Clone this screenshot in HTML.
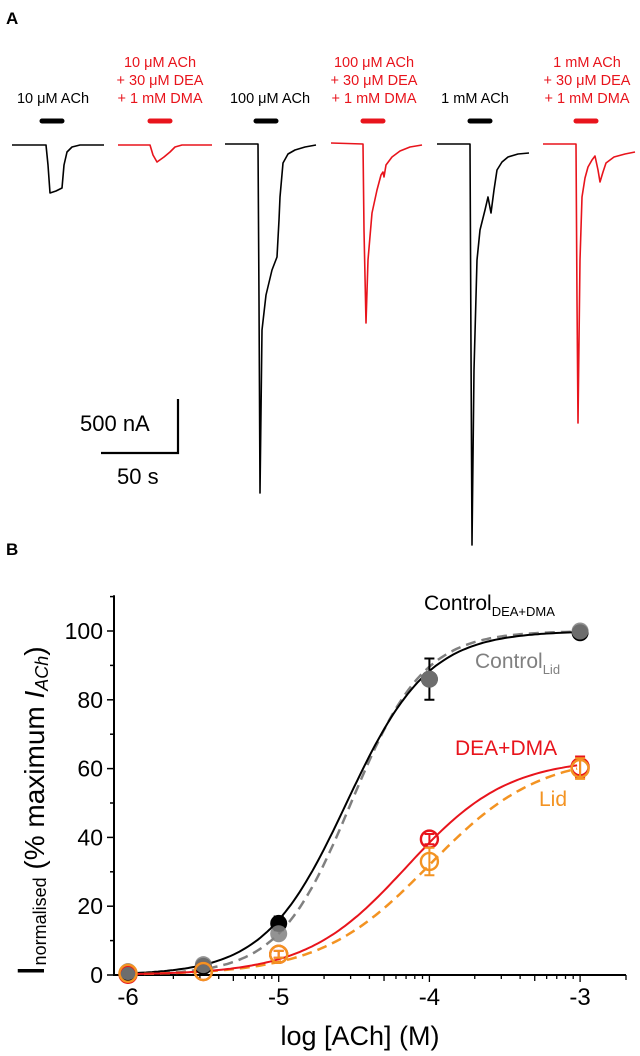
<!DOCTYPE html>
<html><head><meta charset="utf-8"><style>
body{margin:0;background:#fff}
svg{display:block;font-family:"Liberation Sans",Arial,sans-serif}
</style></head><body>
<svg id="fig" width="640" height="1056" viewBox="0 0 640 1056">
<text x="6" y="24" font-size="17" font-weight="bold">A</text>
<text x="6" y="555" font-size="17" font-weight="bold">B</text>

<g font-size="14.5" text-anchor="middle">
<text x="53" y="103" fill="#000">10 μM ACh</text>
<text x="160" y="67" fill="#e8141c"><tspan x="160">10 μM ACh</tspan><tspan x="160" dy="18">+ 30 μM DEA</tspan><tspan x="160" dy="18">+ 1 mM DMA</tspan></text>
<text x="270" y="103" fill="#000">100 μM ACh</text>
<text x="374" y="67" fill="#e8141c"><tspan x="374">100 μM ACh</tspan><tspan x="374" dy="18">+ 30 μM DEA</tspan><tspan x="374" dy="18">+ 1 mM DMA</tspan></text>
<text x="475" y="103" fill="#000">1 mM ACh</text>
<text x="587" y="67" fill="#e8141c"><tspan x="587">1 mM ACh</tspan><tspan x="587" dy="18">+ 30 μM DEA</tspan><tspan x="587" dy="18">+ 1 mM DMA</tspan></text>
</g>
<g stroke-linecap="round" stroke-width="5">
<line x1="42" y1="121" x2="62" y2="121" stroke="#000"/>
<line x1="150" y1="121" x2="170" y2="121" stroke="#e8141c"/>
<line x1="256" y1="121" x2="276" y2="121" stroke="#000"/>
<line x1="363" y1="121" x2="383" y2="121" stroke="#e8141c"/>
<line x1="470" y1="121" x2="490" y2="121" stroke="#000"/>
<line x1="576" y1="121" x2="596" y2="121" stroke="#e8141c"/>
</g>
<g fill="none" stroke-width="1.6" stroke-linejoin="round">
<path stroke="#000" d="M12,145 L46,145 L48,165 L50,193 L56,191 L62,188 L64,165 L67,152 L72,147 L80,145 L104,145"/>
<path stroke="#e8141c" d="M118,145 L150,145 L153,155 L157,162 L164,157 L170,152 L175,147 L182,145 L212,145"/>
<path stroke="#000" d="M225,144 L258,144 L259,300 L260,493 L262,330 L266,295 L272,270 L277,257 L279,220 L280,197 L283,163 L288,154 L295,150 L305,147 L316,145"/>
<path stroke="#e8141c" d="M331,143 L363,144 L364,230 L366,323 L368,260 L372,213 L377,190 L381,175 L383,172 L384,177 L386,165 L392,157 L400,151 L410,147 L422,145"/>
<path stroke="#000" d="M437,144 L470,144 L471,350 L472,545 L474,370 L477,260 L480,230 L485,210 L488,197 L491,213 L494,190 L497,170 L502,162 L508,157 L518,154 L529,153"/>
<path stroke="#e8141c" d="M543,144 L576,144 L577,300 L578,423 L580,260 L582,197 L585,178 L588,167 L592,160 L595,156 L598,170 L600,182 L603,172 L606,163 L614,157 L625,154 L635,152"/>
</g>
<g>
<path d="M178,399 L178,453 L101,453" fill="none" stroke="#000" stroke-width="2.2"/>
<text x="80" y="431" font-size="22">500 nA</text>
<text x="117" y="484" font-size="22">50 s</text>
</g>

<g id="chart"></g>
</svg>
<script>
// ---- data ----
const logConc = [-6, -5.5, -5, -4, -3];
const controlDeaDma = [0.5, 2.5, 15, 86, 99.5];
const controlDeaDmaErr = [0.5, 0.5, 2, 6, 1];
const controlLid = [1, 3, 12, 86, 100];
const deaDma = [0.2, 1, 6, 39.5, 60.5];
const deaDmaErr = [0.3, 0.5, 1, 1.5, 3];
const lid = [0.5, 1, 6, 33, 60];
const lidErr = [0.5, 0.5, 1, 4, 3];
// Hill fit params: [max, logEC50, n]
const fitControlDeaDma = [100, -4.55, 1.6];
const fitControlLid = [100, -4.52, 1.8];
const fitDeaDma = [63, -4.15, 1.3];
const fitLid = [64, -4.0, 1.2];
const xTicks = [-6, -5, -4, -3];
const yTicks = [0, 20, 40, 60, 80, 100];

const NS = 'http://www.w3.org/2000/svg';
const g = document.getElementById('chart');
const X0 = 128, XPD = 150.7, Y0 = 975, YPU = 3.44;
const sx = v => X0 + (v + 6) * XPD;
const sy = v => Y0 - v * YPU;
function mk(tag, attrs, parent) { const e = document.createElementNS(NS, tag); for (const k in attrs) e.setAttribute(k, attrs[k]); (parent || g).appendChild(e); return e; }

// axes
let e = mk('path', {d: `M114,${sy(110.4)} L114,${Y0} L626,${Y0}`, fill: 'none', stroke: '#000', 'stroke-width': 2});


for (let v = 0; v <= 110; v += 10) {
  const t = mk('line', {x1: v % 20 === 0 ? 107 : 110, x2: 114, y1: sy(v), y2: sy(v), stroke: '#000', 'stroke-width': 1.5});
  
  
}
yTicks.forEach(v => {
  const t = mk('text', {x: 103, y: sy(v) + 8, 'font-size': 23, 'text-anchor': 'end'});
  t.textContent = v;
  
  
});
for (let d = -6; d < -2; d++) {
  for (let m = 1; m <= 9; m++) {
    const lv = d + Math.log10(m);
    if (lv > -3) break;
    const t = mk('line', {x1: sx(lv), x2: sx(lv), y1: Y0, y2: Y0 + (m === 1 ? 7 : (m === 5 ? 6 : 4)), stroke: '#000', 'stroke-width': 1.3});
    
    
  }
}
const endTick = mk('line', {x1: 626, x2: 626, y1: Y0, y2: Y0 + 5, stroke: '#000', 'stroke-width': 1.3});


xTicks.forEach(v => {
  const t = mk('text', {x: sx(v), y: Y0 + 30, 'font-size': 24, 'text-anchor': 'middle'});
  t.textContent = v;
  
  
});
const xt = mk('text', {x: 360, y: 1045, 'font-size': 27, 'text-anchor': 'middle'});
xt.textContent = 'log [ACh] (M)';


const yt = mk('text', {transform: 'translate(44,976) rotate(-90)', 'font-size': 28});
yt.innerHTML = '<tspan font-size="38">I</tspan><tspan font-size="18" dy="2">normalised</tspan><tspan dy="-2"> (% maximum </tspan><tspan font-style="italic">I</tspan><tspan font-size="18" dy="4" font-style="italic">ACh</tspan><tspan dy="-4">)</tspan>';



// fits
function fitPath(p) {
  let d = '';
  for (let lv = -6; lv <= -3.0001; lv += 0.02) {
    const r = Math.pow(10, (lv - p[1]) * p[2]);
    const v = p[0] * r / (1 + r);
    d += (d ? 'L' : 'M') + sx(lv).toFixed(1) + ',' + sy(v).toFixed(1);
  }
  return d;
}
e = mk('path', {d: fitPath(fitControlLid), fill: 'none', stroke: '#808080', 'stroke-width': 2.5, 'stroke-dasharray': '10,6'});


e = mk('path', {d: fitPath(fitControlDeaDma), fill: 'none', stroke: '#000', 'stroke-width': 2});


e = mk('path', {d: fitPath(fitLid), fill: 'none', stroke: '#f39322', 'stroke-width': 2.5, 'stroke-dasharray': '10,6'});


e = mk('path', {d: fitPath(fitDeaDma), fill: 'none', stroke: '#e8141c', 'stroke-width': 2});



function errBars(vals, errs, color, name) {
  vals.forEach((v, i) => {
    if (errs[i] < 1) return;
    const x = sx(logConc[i]);
    const p = mk('path', {d: `M${x},${sy(v - errs[i])} L${x},${sy(v + errs[i])} M${x - 5},${sy(v - errs[i])} L${x + 5},${sy(v - errs[i])} M${x - 5},${sy(v + errs[i])} L${x + 5},${sy(v + errs[i])}`, stroke: color, 'stroke-width': 2, fill: 'none'});
    
    
  });
}
function points(vals, opts, name) {
  vals.forEach((v, i) => {
    const c = mk('circle', Object.assign({cx: sx(logConc[i]), cy: sy(v), r: 8.5}, opts));
    
    
  });
}
points(controlDeaDma, {fill: '#000'}, 'point-control-dea-dma');
errBars(controlDeaDma, controlDeaDmaErr, '#000', 'error-bar-control-dea-dma');
points(controlLid, {fill: '#808080', 'fill-opacity': 0.85}, 'point-control-lid');
errBars(deaDma, deaDmaErr, '#e8141c', 'error-bar-dea-dma');
points(deaDma, {fill: 'none', stroke: '#e8141c', 'stroke-width': 2.4}, 'point-dea-dma');
errBars(lid, lidErr, '#f39322', 'error-bar-lid');
points(lid, {fill: 'none', stroke: '#f39322', 'stroke-width': 2.4}, 'point-lid');

// labels
const labs = [
  [424, 610, '#000', 'Control', 'DEA+DMA', 'label-control-dea-dma'],
  [475, 668, '#808080', 'Control', 'Lid', 'label-control-lid'],
];
labs.forEach(l => {
  const t = mk('text', {x: l[0], y: l[1], fill: l[2], 'font-size': 21});
  t.innerHTML = l[3] + '<tspan font-size="13" dy="6">' + l[4] + '</tspan>';
  
  
});
e = mk('text', {x: 455, y: 755, fill: '#e8141c', 'font-size': 21});
e.textContent = 'DEA+DMA';


e = mk('text', {x: 539, y: 806, fill: '#f39322', 'font-size': 21});
e.textContent = 'Lid';


</script>
</body></html>
